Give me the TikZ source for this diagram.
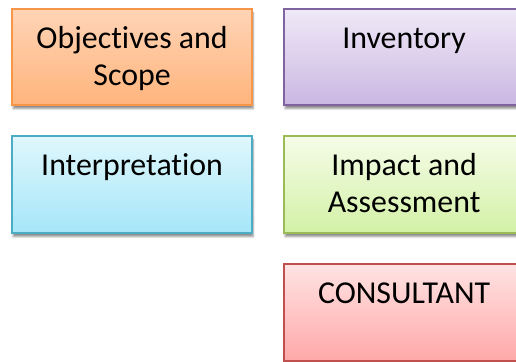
\documentclass[tikz,border=0pt]{standalone}
\usepackage{fontspec}
\setmainfont{Carlito}[Ligatures=NoCommon]
\usetikzlibrary{shadows.blur}
\definecolor{orB}{HTML}{F79646}\definecolor{orT}{HTML}{FFD4B6}\definecolor{orBo}{HTML}{FFB47C}
\definecolor{puB}{HTML}{8064A2}\definecolor{puT}{HTML}{EFE9F7}\definecolor{puBo}{HTML}{CBB7E2}
\definecolor{cyB}{HTML}{4BACC6}\definecolor{cyT}{HTML}{E0F7FD}\definecolor{cyBo}{HTML}{A5E6F8}
\definecolor{grB}{HTML}{9BBB59}\definecolor{grT}{HTML}{F5FCE8}\definecolor{grBo}{HTML}{D3F1A6}
\definecolor{reB}{HTML}{C0504D}\definecolor{reT}{HTML}{FFE3E3}\definecolor{reBo}{HTML}{FFA8A8}
\tikzset{
  box/.style={rectangle, anchor=north west, minimum width=240bp, minimum height=96bp,
    inner sep=0pt, line width=2.2bp,
    blur shadow={shadow xshift=1bp, shadow yshift=-3.5bp, shadow blur steps=6, shadow opacity=45}},
  lbl/.style={anchor=north, inner sep=0pt, align=center, text=black,
    font=\fontsize{32}{37}\selectfont},
}
\begin{document}
\begin{tikzpicture}[x=1bp,y=-1bp]
\useasboundingbox (0,0) rectangle (516,361);
\node[box, draw=orB, top color=orT, bottom color=orBo] (b1) at (11,8) {};
\node[box, draw=puB, top color=puT, bottom color=puBo] (b2) at (283,8) {};
\node[box, draw=cyB, top color=cyT, bottom color=cyBo, minimum height=97bp] (b3) at (11,135) {};
\node[box, draw=grB, top color=grT, bottom color=grBo, minimum height=97bp] (b4) at (283,135) {};
\node[box, draw=reB, top color=reT, bottom color=reBo, minimum height=97bp] (b5) at (283,263) {};
\node[lbl] (t1) at ([yshift=-14.5bp]b1.north) {\strut Objectives and\\Scope};
\node[lbl] (t2) at ([yshift=-14.5bp]b2.north) {\strut Inventory};
\node[lbl] (t3) at ([yshift=-14.5bp]b3.north) {\strut Interpretation};
\node[lbl] (t4) at ([yshift=-14.5bp]b4.north) {\strut Impact and\\Assessment};
\node[lbl] (t5) at ([yshift=-14.5bp]b5.north) {\strut CONSULTANT};
\end{tikzpicture}
\end{document}
